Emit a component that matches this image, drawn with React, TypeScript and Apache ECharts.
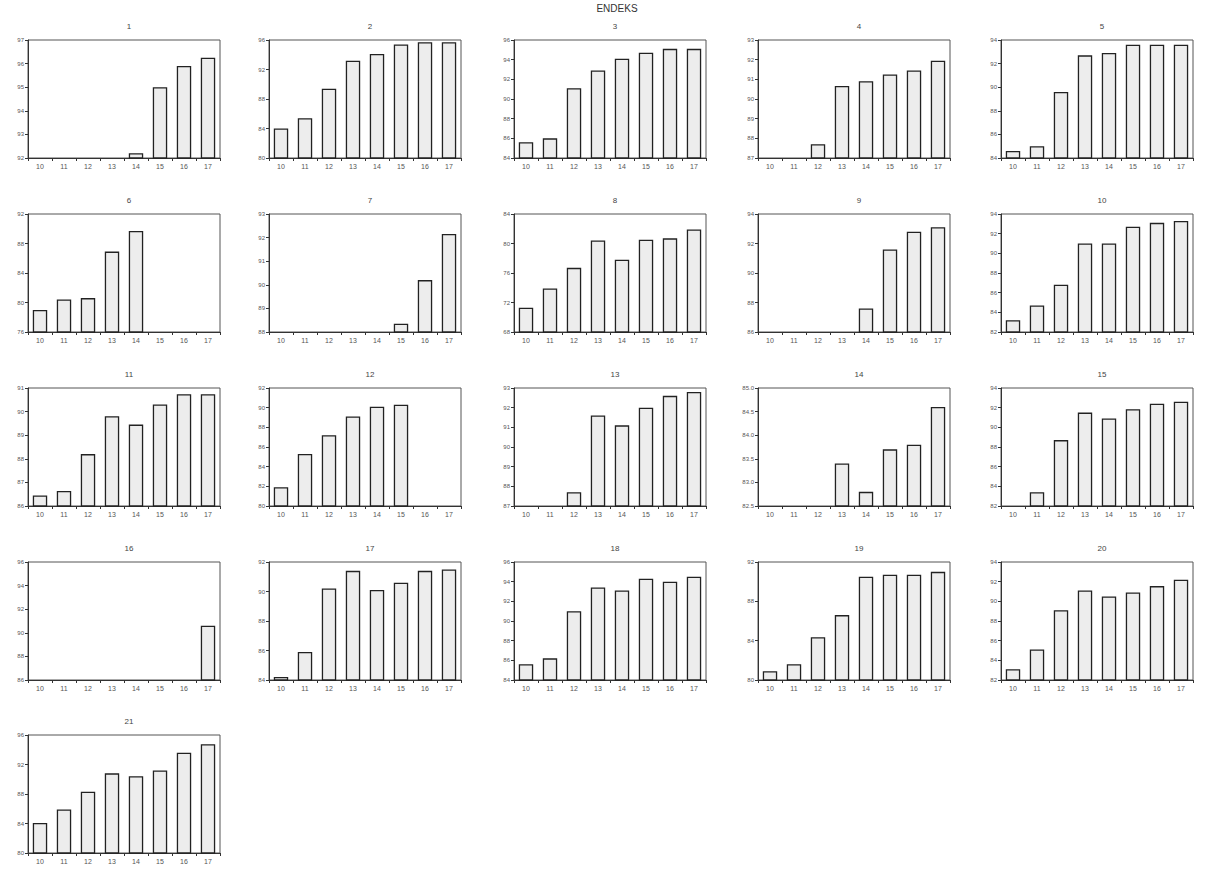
import React, { useEffect, useRef } from "react";
import * as echarts from "echarts";

const categories = ["10", "11", "12", "13", "14", "15", "16", "17"];
const panelTitles = ["1", "2", "3", "4", "5", "6", "7", "8", "9", "10", "11", "12", "13", "14", "15", "16", "17", "18", "19", "20", "21"];

const s1 = [null, null, null, null, 92.2, 95.0, 95.9, 96.25];
const s2 = [84.0, 85.4, 89.4, 93.2, 94.1, 95.4, 95.7, 95.7];
const s3 = [85.6, 86.0, 91.1, 92.9, 94.1, 94.7, 95.1, 95.1];
const s4 = [null, null, 87.7, 90.66, 90.9, 91.25, 91.45, 91.95];
const s5 = [84.6, 85.0, 89.6, 92.7, 92.9, 93.6, 93.6, 93.6];
const s6 = [79.0, 80.4, 80.6, 86.9, 89.7, null, null, null];
const s7 = [null, null, null, null, null, 88.35, 90.2, 92.15];
const s8 = [71.3, 73.9, 76.7, 80.4, 77.8, 80.5, 80.7, 81.9];
const s9 = [null, null, null, null, 87.6, 91.6, 92.8, 93.1];
const s10 = [83.2, 84.7, 86.8, 91.0, 91.0, 92.7, 93.1, 93.3];
const s11 = [86.45, 86.64, 88.2, 89.8, 89.45, 90.3, 90.74, 90.74];
const s12 = [81.9, 85.3, 87.2, 89.1, 90.1, 90.3, null, null];
const s13 = [null, null, 87.7, 91.6, 91.1, 92.0, 92.6, 92.8];
const s14 = [null, null, null, 83.4, 82.8, 83.7, 83.8, 84.6];
const s15 = [null, 83.4, 88.7, 91.5, 90.9, 91.85, 92.4, 92.6];
const s16 = [null, null, null, null, null, null, null, 90.6];
const s17 = [84.2, 85.9, 90.2, 91.4, 90.1, 90.6, 91.4, 91.5];
const s18 = [85.6, 86.2, 91.0, 93.4, 93.1, 94.3, 94.0, 94.5];
const s19 = [80.9, 81.6, 84.35, 86.6, 90.5, 90.7, 90.7, 91.0];
const s20 = [83.1, 85.1, 89.1, 91.1, 90.5, 90.9, 91.55, 92.2];
const s21 = [84.06, 85.9, 88.3, 90.8, 90.4, 91.2, 93.6, 94.75];

const allSeries = [s1, s2, s3, s4, s5, s6, s7, s8, s9, s10, s11, s12, s13, s14, s15, s16, s17, s18, s19, s20, s21];

const yMins = [92, 80, 84, 87, 84, 76, 88, 68, 86, 82, 86, 80, 87, 82.5, 82, 86, 84, 84, 80, 82, 80];
const yMaxs = [97, 96, 96, 93, 94, 92, 93, 84, 94, 94, 91, 92, 93, 85, 94, 96, 92, 96, 92, 94, 96];
const yIntervals = [1, 4, 2, 1, 2, 4, 1, 4, 2, 2, 1, 2, 1, 0.5, 2, 2, 2, 2, 4, 2, 4];

const mainTitle = "ENDEKS";

export default function App() {
  const ref = useRef<HTMLDivElement>(null);
  useEffect(() => {
    document.body.style.margin = "0";
    const chart = echarts.init(ref.current!, null, { renderer: "svg" });
    const colLeft = [28, 269, 514, 758, 1001];
    const rowTop = [40, 214, 388, 562, 735];
    const W = 192;
    const H = 118;
    const font = "Liberation Sans, Arial, sans-serif";
    const grids: any[] = [];
    const xAxes: any[] = [];
    const yAxes: any[] = [];
    const series: any[] = [];
    const titles: any[] = [
      {
        text: mainTitle,
        left: 612,
        top: -2,
        textAlign: "center",
        textStyle: { fontSize: 10, fontWeight: "normal", color: "#333", fontFamily: font },
      },
    ];
    allSeries.forEach((data, i) => {
      const r = Math.floor(i / 5);
      const c = i % 5;
      const left = colLeft[c];
      const top = rowTop[r];
      grids.push({
        left,
        top,
        width: W,
        height: H,
        show: true,
        borderColor: "#555",
        borderWidth: 1,
        backgroundColor: "transparent",
      });
      titles.push({
        text: panelTitles[i],
        left: left + W / 2,
        top: top - 23,
        textAlign: "center",
        textStyle: { fontSize: 8, fontWeight: "normal", color: "#444", fontFamily: font },
      });
      xAxes.push({
        type: "category",
        gridIndex: i,
        data: categories,
        axisLine: { lineStyle: { color: "#333", width: 1 } },
        axisTick: { show: true, length: 3, lineStyle: { color: "#333" } },
        axisLabel: { fontSize: 7, color: "#555", margin: 5, fontFamily: font },
        splitLine: { show: false },
      });
      yAxes.push({
        type: "value",
        gridIndex: i,
        min: yMins[i],
        max: yMaxs[i],
        interval: yIntervals[i],
        axisLine: { show: true, lineStyle: { color: "#333", width: 1 } },
        axisTick: { show: true, length: 3, lineStyle: { color: "#333" } },
        axisLabel: {
          fontSize: 6,
          color: "#555",
          margin: 4,
          fontFamily: font,
          formatter: (v: number) => (yIntervals[i] < 1 ? v.toFixed(1) : String(v)),
        },
        splitLine: { show: false },
      });
      series.push({
        type: "bar",
        xAxisIndex: i,
        yAxisIndex: i,
        data,
        barWidth: "60%",
        itemStyle: { color: "#ededed", borderColor: "#222", borderWidth: 1.3 },
        silent: true,
      });
    });
    chart.setOption({
      animation: false,
      backgroundColor: "#fff",
      title: titles,
      grid: grids,
      xAxis: xAxes,
      yAxis: yAxes,
      series,
    });
    return () => chart.dispose();
  }, []);
  return <div ref={ref} style={{ width: 1211, height: 870, position: "absolute", left: 0, top: 0 }} />;
}
